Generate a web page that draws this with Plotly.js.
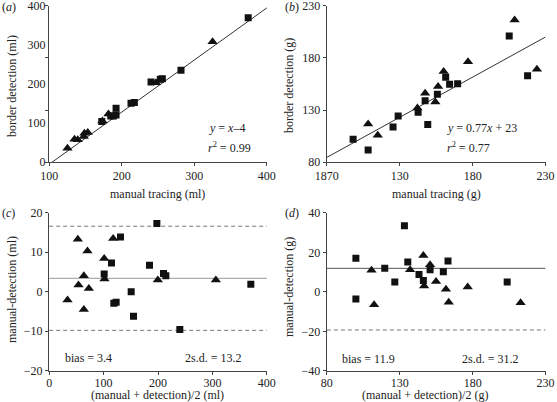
<!DOCTYPE html>
<html><head><meta charset="utf-8">
<script src="https://cdn.plot.ly/plotly-3.0.1.min.js"></script>
<style>html,body{margin:0;padding:0;background:#fff}#chart{width:557px;height:402px}</style>
</head><body><div id="chart"></div>
<script>
// ---------- data ----------
// (a) volume: manual tracing vs border detection (ml)
const aSquareManual    = [374.3, 281.7, 256.0, 253.2, 240.4, 217.4, 212.8, 192.2, 192.2, 188.5, 184.9, 172.5];
const aSquareDetection = [377.0, 276.2, 260.2, 258.9, 253.8, 214.3, 213.0, 203.4, 190.6, 188.7, 188.7, 177.9];
const aTriManual       = [325.2, 247.2, 181.7, 173.4, 153.2, 148.6, 147.7, 139.4, 134.9, 125.2];
const aTriDetection    = [331.0, 252.5, 192.6, 179.1, 156.8, 155.5, 149.1, 142.8, 144.0, 126.8];
const aFitX = [100, 400];
const aFitY = [96, 396];
const aXTicks = [100, 200, 300, 400];
const aYTickMarks = [100, 200, 300, 400];
const aYLabelPos = [100, 175, 250, 325, 400];
const aYLabelText = ['0', '100', '200', '300', '400'];

// (b) mass: manual tracing vs border detection (g)
const bSquareManual    = [205.1, 217.7, 161.5, 164.2, 169.7, 155.8, 147.4, 142.6, 128.9, 125.4, 149.2, 98.0, 108.3];
const bSquareDetection = [201.0, 163.0, 161.4, 154.7, 155.3, 145.1, 139.0, 127.9, 124.4, 113.8, 116.1, 102.0, 91.8];
const bTriManual       = [208.8, 224.1, 176.8, 160.1, 156.3, 147.4, 154.4, 142.1, 108.3, 114.9];
const bTriDetection    = [216.3, 169.1, 176.4, 167.1, 152.5, 146.1, 137.8, 132.0, 116.7, 105.9];
const bFitX = [80, 230];
const bFitY = [84.6, 200.1];
const bXTickVals = [80, 130, 180, 230];
const bXTickText = ['1870', '130', '180', '230'];
const bYTicks = [80, 130, 180, 230];

// (c) Bland-Altman, volume (ml)
const cSquareMean = [197.9, 131.1, 114.5, 101.1, 184.4, 210.1, 214.4, 150.7, 118.8, 123.1, 155.0, 240.1, 370.6];
const cSquareDiff = [17.3, 13.9, 7.3, 4.5, 6.7, 4.6, 4.05, 0.0, -2.95, -2.7, -6.2, -9.6, 1.86];
const cTriMean    = [52.7, 70.4, 117.6, 101.1, 63.7, 101.7, 53.9, 72.9, 33.7, 63.7, 199.7, 306.3];
const cTriDiff    = [13.3, 10.3, 13.5, 8.4, 4.05, 3.2, 1.7, 0.84, -2.1, -4.5, 2.95, 2.95];
const cBias = 3.4, cTwoSD = 13.2;
const cXTicks = [0, 100, 200, 300, 400];
const cYTicks = [-20, -10, 0, 10, 20];

// (d) Bland-Altman, mass (g)
const dSquareMean = [133.2, 99.9, 99.9, 119.7, 126.6, 135.5, 143.2, 146.2, 150.8, 159.9, 163.1, 203.7];
const dSquareDiff = [33.4, 17.0, -3.6, 12.0, 5.0, 15.1, 8.8, 5.8, 11.2, 10.2, 15.6, 5.0];
const dTriMean    = [146.2, 150.8, 110.6, 137.1, 112.4, 146.7, 154.9, 161.7, 163.6, 176.6, 212.9];
const dTriDiff    = [18.4, 13.7, 10.9, 11.2, -6.5, 2.95, 5.3, 1.3, -5.3, 2.4, -5.5];
const dBias = 11.9, dTwoSD = 31.2;
const dXTicks = [80, 130, 180, 230];
const dYTicks = [-40, -20, 0, 20, 40];

// ---------- styling ----------
const W = 557, H = 402;
const FONT = 'Liberation Serif, Times New Roman, serif';
const INK = '#222';
const px = (x) => x / W;
const py = (y) => 1 - y / H;
const pad = (lo, hi) => { const e = (hi - lo) * 0.0008; return [lo - e, hi + e]; };

function sq(x, y, xa, ya) {
  return {x: x, y: y, xaxis: xa, yaxis: ya, type: 'scatter', mode: 'markers',
    marker: {symbol: 'square', size: 7, color: '#111'}, hoverinfo: 'skip', showlegend: false};
}
function tri(x, y, xa, ya) {
  return {x: x, y: y, xaxis: xa, yaxis: ya, type: 'scatter', mode: 'markers',
    marker: {symbol: 'triangle-up', size: 9, color: '#111'}, hoverinfo: 'skip', showlegend: false};
}
function line(x, y, xa, ya, color, dash) {
  return {x: x, y: y, xaxis: xa, yaxis: ya, type: 'scatter', mode: 'lines',
    line: {color: color, width: 1, dash: dash || 'solid'}, hoverinfo: 'skip', showlegend: false};
}

const traces = [
  line(aFitX, aFitY, 'x', 'y', '#333'),
  sq(aSquareManual, aSquareDetection, 'x', 'y'),
  tri(aTriManual, aTriDetection, 'x', 'y'),

  line(bFitX, bFitY, 'x2', 'y2', '#333'),
  sq(bSquareManual, bSquareDetection, 'x2', 'y2'),
  tri(bTriManual, bTriDetection, 'x2', 'y2'),

  line([0, 400], [cBias, cBias], 'x3', 'y3', '#999'),
  line([0, 400], [cBias + cTwoSD, cBias + cTwoSD], 'x3', 'y3', '#777', '4px,3px'),
  line([0, 400], [cBias - cTwoSD, cBias - cTwoSD], 'x3', 'y3', '#777', '4px,3px'),
  sq(cSquareMean, cSquareDiff, 'x3', 'y3'),
  tri(cTriMean, cTriDiff, 'x3', 'y3'),

  line([80, 230], [dBias, dBias], 'x4', 'y4', '#555'),
  line([80, 230], [dBias + dTwoSD, dBias + dTwoSD], 'x4', 'y4', '#777', '4px,3px'),
  line([80, 230], [dBias - dTwoSD, dBias - dTwoSD], 'x4', 'y4', '#777', '4px,3px'),
  sq(dSquareMean, dSquareDiff, 'x4', 'y4'),
  tri(dTriMean, dTriDiff, 'x4', 'y4')
];

const axBase = {
  showline: true, linecolor: '#444', linewidth: 1,
  ticks: 'outside', ticklen: 3, tickwidth: 1, tickcolor: '#444',
  showgrid: false, zeroline: false, fixedrange: true,
  ticklabeloverflow: 'allow',
  tickfont: {family: FONT, size: 12, color: INK}
};
const ax = (o) => Object.assign({}, axBase, o);

const leftX = [px(49), px(267)];
const rightX = [px(326.7), px(545.7)];
const topY = [py(162.3), py(5.7)];
const botY = [py(371), py(212.7)];

const layout = {
  width: W, height: H,
  margin: {l: 0, r: 0, t: 0, b: 0},
  paper_bgcolor: '#fff', plot_bgcolor: '#fff',
  font: {family: FONT, size: 12, color: INK},
  showlegend: false,
  xaxis: ax({domain: leftX, anchor: 'y', range: pad(100, 400), tickmode: 'array', tickvals: aXTicks, ticklabelstandoff: -1}),
  yaxis: ax({domain: topY, anchor: 'x', range: pad(100, 400), tickmode: 'array',
    tickvals: aYLabelPos, ticktext: aYLabelText, ticks: '',
    minor: {tickmode: 'array', tickvals: aYTickMarks, ticks: 'outside', ticklen: 3, tickwidth: 1, tickcolor: '#444'}}),
  xaxis2: ax({domain: rightX, anchor: 'y2', range: pad(80, 230), tickmode: 'array', tickvals: bXTickVals, ticktext: bXTickText, ticklabelstandoff: -1}),
  yaxis2: ax({domain: topY, anchor: 'x2', range: pad(80, 230), tickmode: 'array', tickvals: bYTicks}),
  xaxis3: ax({domain: leftX, anchor: 'y3', range: pad(0, 400), tickmode: 'array', tickvals: cXTicks, ticklabelstandoff: -2}),
  yaxis3: ax({domain: [py(370.7), py(212.7)], anchor: 'x3', range: pad(-20, 20), tickmode: 'array', tickvals: cYTicks}),
  xaxis4: ax({domain: rightX, anchor: 'y4', range: pad(80, 230), tickmode: 'array', tickvals: dXTicks, ticklabelstandoff: -2}),
  yaxis4: ax({domain: botY, anchor: 'x4', range: pad(-40, 40), tickmode: 'array', tickvals: dYTicks}),
  annotations: []
};

function note(text, x, y, opts) {
  layout.annotations.push(Object.assign({
    text: text, xref: 'paper', yref: 'paper', x: px(x), y: py(y),
    xanchor: 'left', yanchor: 'middle', showarrow: false, borderpad: 0,
    font: {family: FONT, size: 12, color: INK}
  }, opts || {}));
}
// panel letters
note('(<i>a</i>)', 1, 7);
note('(<i>b</i>)', 284, 7);
note('(<i>c</i>)', 1, 213);
note('(<i>d</i>)', 284, 213);
// axis titles
note('border detection (ml)', 12, 86, {xanchor: 'center', textangle: -90});
note('manual tracing (ml)', 157.5, 193.5, {xanchor: 'center'});
note('border detection (g)', 289, 85, {xanchor: 'center', textangle: -90});
note('manual tracing (g)', 436, 193.5, {xanchor: 'center'});
note('manual-detection (ml)', 12, 290, {xanchor: 'center', textangle: -90});
note('(manual + detection)/2 (ml)', 157, 395.3, {xanchor: 'center'});
note('manual-detection (g)', 289, 287, {xanchor: 'center', textangle: -90});
note('(manual + detection)/2 (g)', 425, 395.3, {xanchor: 'center'});
// in-panel statistics
note('<i>y</i> = <i>x</i>–4', 208, 128);
note('<i>r</i><sup>2</sup> = 0.99', 207, 147);
note('<i>y</i> = 0.77<i>x</i> + 23', 446, 128);
note('<i>r</i><sup>2</sup> = 0.77', 446, 147);
note('bias = ' + cBias, 64, 358);
note('2s.d. = ' + cTwoSD, 184, 358);
note('bias = ' + dBias, 341, 359);
note('2s.d. = ' + dTwoSD, 461, 359);

Plotly.newPlot('chart', traces, layout, {staticPlot: true, displayModeBar: false});
</script>
</body></html>
